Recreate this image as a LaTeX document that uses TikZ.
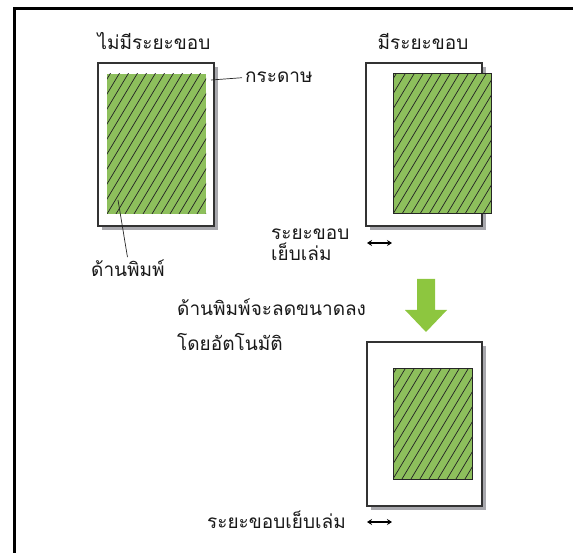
\documentclass[tikz,border=0pt]{standalone}
\usepackage{fontspec}
\newfontfamily\thaifont[Script=Thai]{Loma}
\usetikzlibrary{arrows.meta,positioning,calc}
\definecolor{printgreen}{RGB}{141,191,92}
\definecolor{arrowgreen}{RGB}{141,198,63}
\definecolor{shadowgray}{RGB}{168,168,173}
\tikzset{
  paper/.style={draw=black!80, fill=white, line width=1.1pt},
  shade/.style={fill=shadowgray, draw=none},
  hatch/.style={draw=black!85, line width=0.75pt},
  edge/.style={draw=black!85, line width=1pt},
  lbl/.style={font=\thaifont\fontsize{19}{21}\selectfont, inner sep=0pt, text=black!90},
  leader/.style={draw=black!85, line width=0.7pt},
  gap/.style={{Stealth[length=5pt,width=6pt]}-{Stealth[length=5pt,width=6pt]}, line width=1.3pt},
}
% paper sheet with drop shadow: x1,y1,x2,y2
\newcommand{\sheet}[4]{%
  \fill[shade] (#1+4,#2+4) rectangle (#3+4,#4+4);
  \draw[paper] (#1,#2) rectangle (#3,#4);}
% hatched print area: [outline], x1,y1,x2,y2
\newcommand{\printzone}[5][draw=none]{%
  \begin{scope}
    \clip (#2,#3) rectangle (#4,#5);
    \fill[printgreen] (#2,#3) rectangle (#4,#5);
    \foreach \k in {-16,...,12} {\draw[hatch] (#2+\k*9,#5) -- ++(120,-200);}
  \end{scope}
  \draw[#1] (#2,#3) rectangle (#4,#5);}

\begin{document}
\begin{tikzpicture}[x=1pt,y=-1pt]
  \useasboundingbox (0,0) rectangle (573,553);
  \draw[line width=3pt] (14.5,553) -- (14.5,8.3) -- (573,8.3);

  % without margin
  \sheet{98}{63}{214}{226}
  \printzone{107}{74}{206}{214}
  \node[lbl, anchor=base] (nomargin) at (154,50) {ไม่มีระยะขอบ};
  \node[lbl, anchor=base west] (paperlbl) at (245,83) {กระดาษ};
  \node[lbl, anchor=base west] (printlbl) at (91,277) {ด้านพิมพ์};
  \coordinate (paperpt) at (211,80);
  \coordinate (zonept) at (118,200);
  \draw[leader] (paperpt) -- ([xshift=-3pt]paperlbl.west);
  \draw[leader, shorten >=3pt] (zonept) -- (printlbl.north);

  % with margin
  \sheet{366}{63}{482}{226}
  \printzone[edge]{393}{74}{491}{214}
  \node[lbl, anchor=base] (margin) at (423,50) {มีระยะขอบ};
  \node[lbl, anchor=base west, align=left] (gutterlbl) at (271,261) {ระยะขอบ\\เย็บเล่ม};
  \coordinate (gapA) at (367,243);
  \coordinate (gapB) at (392,243);
  \draw[gap] (gapA) -- (gapB);

  % reduced automatically
  \fill[arrowgreen] (417,279) -- (435,279) -- (435,310) -- (447,310) -- (426,332)
    -- (405,310) -- (417,310) -- cycle;
  \node[lbl, anchor=base west, align=left, font=\thaifont\fontsize{19}{35}\selectfont]
    (shrinklbl) at (177,350) {ด้านพิมพ์จะลดขนาดลง\\โดยอัตโนมัติ};
  \sheet{367}{342}{482}{506}
  \printzone[edge]{393}{368}{472}{479}
  \node[lbl, anchor=base west] (gutterlbl2) at (207,528) {ระยะขอบเย็บเล่ม};
  \coordinate (gapC) at (367,522);
  \coordinate (gapD) at (392,522);
  \draw[gap] (gapC) -- (gapD);
\end{tikzpicture}
\end{document}
